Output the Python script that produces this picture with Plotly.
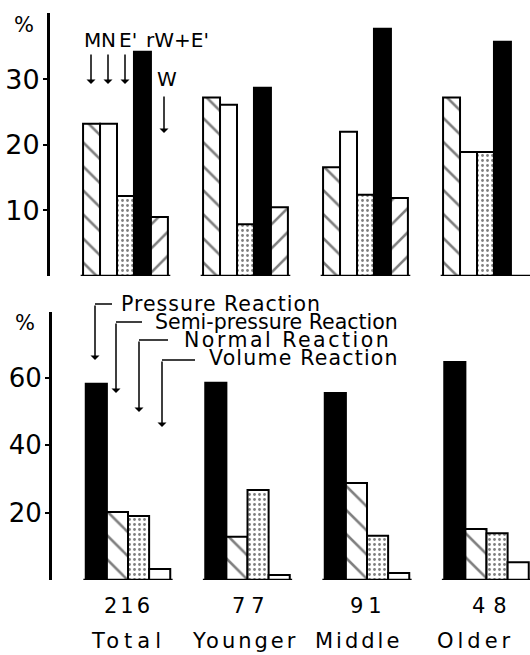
import plotly.graph_objects as go

# ---------------- data ----------------
groups = ["Total", "Younger", "Middle", "Older"]
counts = ["216", "77", "91", "48"]

# upper panel (%)
top_names = ["M", "N", "E'", "rW+E'", "W"]
top_M = [23.2, 27.2, 16.6, 27.2]
top_N = [23.2, 26.1, 22.0, 18.9]
top_E = [12.2, 7.9, 12.4, 18.9]
top_rWE = [34.2, 28.7, 37.7, 35.7]
top_W = [9.0, 10.5, 11.9, None]
top_ticks = [10, 20, 30]

# lower panel (%)
bot_names = ["Pressure Reaction", "Semi-pressure Reaction", "Normal Reaction", "Volume Reaction"]
bot_pressure = [58.2, 58.5, 55.5, 64.7]
bot_semi = [20.2, 12.8, 28.8, 15.1]
bot_normal = [19.0, 26.7, 13.1, 13.9]
bot_volume = [3.3, 1.5, 2.1, 5.3]
bot_ticks = [20, 40, 60]

# ---------------- styles ----------------
W_PX, H_PX = 530, 655
FONT = "DejaVu Sans"


def px(x):
    return x / W_PX


def py(y):
    return 1 - y / H_PX


OUT = dict(color="black", width=2)
hatch_back = dict(shape="\\", fgcolor="black", bgcolor="white", size=17, solidity=0.15)
hatch_fwd = dict(shape="/", fgcolor="black", bgcolor="white", size=17, solidity=0.15)
stipple = dict(shape=".", fgcolor="black", bgcolor="white", size=5, solidity=0.25)


def bar(name, y, xa, ya, color="white", pattern=None):
    m = dict(color=color, line=OUT)
    if pattern is not None:
        m["pattern"] = pattern
    return go.Bar(name=name, x=groups, y=y, xaxis=xa, yaxis=ya, marker=m,
                  hoverinfo="x+y+name")


fig = go.Figure()
top_vals = [top_M, top_N, top_E, top_rWE, top_W]
top_style = [("white", hatch_back), ("white", None), ("white", stipple), ("black", None), ("white", hatch_fwd)]
for n, v, (c, p) in zip(top_names, top_vals, top_style):
    fig.add_trace(bar(n, v, "x", "y", c, p))

bot_vals = [bot_pressure, bot_semi, bot_normal, bot_volume]
bot_style = [("black", None), ("white", hatch_back), ("white", stipple), ("white", None)]
for n, v, (c, p) in zip(bot_names, bot_vals, bot_style):
    fig.add_trace(bar(n, v, "x2", "y2", c, p))

BARGAP = 0.293
axis_common = dict(showgrid=False, zeroline=False)
yax = dict(showline=True, linewidth=3, linecolor="black", ticks="outside", ticklen=4,
           tickwidth=2, tickcolor="black", ticklabelstandoff=-2, **axis_common)

fig.update_layout(
    width=W_PX, height=H_PX, margin=dict(l=0, r=0, t=0, b=0),
    paper_bgcolor="white", plot_bgcolor="white", showlegend=False,
    barmode="group", bargap=BARGAP, bargroupgap=0,
    font=dict(family=FONT, color="black"),
    xaxis=dict(domain=[px(50), 1], range=[-0.629, 3.371], showticklabels=False,
               ticks="", anchor="y", **axis_common),
    yaxis=dict(domain=[py(276), py(13)], range=[0, 40.1], tickvals=top_ticks, anchor="x",
               tickfont=dict(family=FONT, size=27, color="black"), **yax),
    xaxis2=dict(domain=[px(52), 1], range=[-0.636, 3.364], showticklabels=False,
                ticks="", anchor="y2", **axis_common),
    yaxis2=dict(domain=[py(580), py(312)], range=[0, 79.5], tickvals=bot_ticks, anchor="x2",
                tickfont=dict(family=FONT, size=26, color="black"), **yax),
)

# baseline segments under every group
half = (1 - BARGAP) / 2 + 0.02
for xr, yr in (("x", "y"), ("x2", "y2")):
    for i in range(len(groups)):
        fig.add_shape(type="line", xref=xr, yref=yr, x0=i - half, x1=i + half, y0=0, y1=0,
                      line=dict(color="black", width=2.5))

ann = []


def text(x, y, s, size, anchor="left", spacing=0, yanchor="middle", xref="paper", xshift=0):
    if spacing:
        s = '<span style="letter-spacing:%spx">%s</span>' % (spacing, s)
    ann.append(dict(x=x, y=y, xref=xref, yref="paper", text=s, showarrow=False,
                    xanchor=anchor, yanchor=yanchor, xshift=xshift,
                    font=dict(family=FONT, size=size, color="black")))


def arrow(x, y_tail, y_tip):
    ann.append(dict(x=px(x), y=py(y_tip), xref="paper", yref="paper", text="",
                    showarrow=True, ax=0, ay=-(y_tip - y_tail), axref="pixel", ayref="pixel",
                    arrowhead=1, arrowsize=1, arrowwidth=1.5, arrowcolor="black", standoff=0))


# % signs
text(px(24), py(25), "%", 21, anchor="center")
text(px(25), py(323), "%", 21, anchor="center")

# upper labels
text(px(92), py(40), "M", 20, anchor="center")
text(px(108), py(40), "N", 20, anchor="center")
text(px(128), py(40), "E'", 20, anchor="center")
text(px(144), py(40), "rW+E'", 20, anchor="left")
text(px(167), py(79), "W", 20, anchor="center")
for xx in (91, 108, 125):
    arrow(xx, 53, 84)
arrow(164, 95, 133)

# lower legend with bent arrows
legend_pos = [(119, 304, 1.0), (153, 322, 0), (182, 340, 2.5), (207, 358, 1.2)]
bends = [(95, 304, 112, 360), (116, 322, 142, 393), (139, 340, 168, 412), (162, 360, 195, 427)]
for name, (lx, ly, sp) in zip(bot_names, legend_pos):
    text(px(lx), py(ly), name, 20.5, anchor="left", spacing=sp)
for cx, cy, ex, tip in bends:
    fig.add_shape(type="line", xref="paper", yref="paper", x0=px(cx), x1=px(ex),
                  y0=py(cy), y1=py(cy), line=dict(color="black", width=1.5))
    arrow(cx, cy, tip)

# category labels under lower panel
num_shift = [0.5, 4, 1, 6.5]
num_space = [3, 6, 5, 8]
word_shift = [0, -3, -9, -11]
word_space = [5, 3, 3, 4]
for g, c, ns, nsp, ws, wsp in zip(groups, counts, num_shift, num_space, word_shift, word_space):
    text(g, py(606), c, 21, anchor="center", spacing=nsp, xref="x2", xshift=ns)
    text(g, py(641), g, 21, anchor="center", spacing=wsp, xref="x2", xshift=ws)

fig.update_layout(annotations=ann)
fig.write_html("out.html")
